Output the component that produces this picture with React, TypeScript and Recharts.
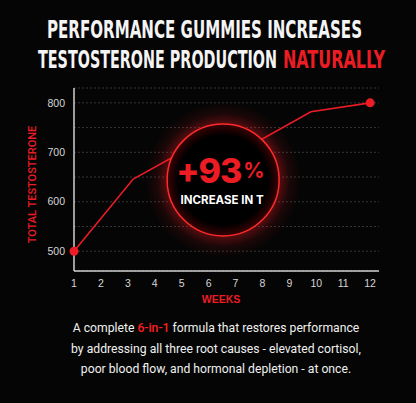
import React from 'react';
import {
  LineChart, Line, XAxis, YAxis, CartesianGrid, ReferenceDot, Label,
} from 'recharts';

// weeks on the x axis, total testosterone
const weeks = [1, 3.2, 5, 7.5, 9.8, 12];
const testosterone = [500, 646, 700, 712, 782, 800];
const weekTicks = [1, 2, 3, 4, 5, 6, 7, 8, 9, 10, 11, 12];
const levelTicks = [500, 550, 600, 650, 700, 750, 800];

// the "+93%" badge sits at this spot in data space
const badgeWeek = 6.54;
const badgeLevel = 644;

const RED = '#ec1c24';
const data = weeks.map((w, i) => ({ week: w, t: testosterone[i] }));

const EndDot = (props: any) => {
  const { cx, cy, index } = props;
  if (index !== 0 && index !== data.length - 1) return <g key={`d-${index}`} />;
  return <circle key={`d-${index}`} cx={cx} cy={cy} r={4.5} fill={RED} />;
};

const Badge = (props: any) => {
  const { cx, cy } = props;
  const r = 56;
  return (
    <g>
      <defs>
        <radialGradient id="glow" cx="50%" cy="50%" r="50%">
          <stop offset="0.6" stopColor={RED} stopOpacity={0.55} />
          <stop offset="0.72" stopColor={RED} stopOpacity={0.35} />
          <stop offset="0.85" stopColor={RED} stopOpacity={0.1} />
          <stop offset="1" stopColor={RED} stopOpacity={0} />
        </radialGradient>
        <radialGradient id="inner" cx="50%" cy="50%" r="50%">
          <stop offset="0.8" stopColor="#000" />
          <stop offset="1" stopColor="#3a0204" />
        </radialGradient>
      </defs>
      <circle cx={cx} cy={cy} r={r + 22} fill="url(#glow)" />
      <circle cx={cx} cy={cy} r={r} fill="url(#inner)" stroke="#ff2a2a" strokeWidth={1.5} />
      <text
        x={cx - 47} y={cy + 3} fill={RED} fontSize={34} fontWeight={800}
        fontFamily="Inter, Roboto, sans-serif" letterSpacing={-1}
      >+93</text>
      <text
        x={cx + 20} y={cy - 2} fill={RED} fontSize={21} fontWeight={700}
        fontFamily="Inter, Roboto, sans-serif"
      >%</text>
      <text
        x={cx - 1} y={cy + 24} fill="#fff" fontSize={11.5} fontWeight={700}
        fontFamily="Inter, Roboto, sans-serif" textAnchor="middle"
      >INCREASE IN T</text>
    </g>
  );
};

const titleFont = "'DejaVu Sans Condensed', Roboto, 'Liberation Sans', sans-serif";

export default function App() {
  return (
    <div style={{
      position: 'absolute', left: 0, top: 0, width: 416, height: 403,
      background: '#050505', overflow: 'hidden',
    }}>
      <svg width={416} height={80} style={{ position: 'absolute', left: 0, top: 0 }}>
        <text x={47} y={38} fill="#f4f4f4" fontSize={25.5} fontWeight={700} fontFamily={titleFont}
          textLength={315} lengthAdjust="spacingAndGlyphs">PERFORMANCE GUMMIES INCREASES</text>
        <text x={38} y={68} fill="#f4f4f4" fontSize={25.5} fontWeight={700} fontFamily={titleFont}
          textLength={239} lengthAdjust="spacingAndGlyphs">TESTOSTERONE PRODUCTION</text>
        <text x={283} y={68} fill={RED} fontSize={25.5} fontWeight={700} fontFamily={titleFont}
          textLength={102} lengthAdjust="spacingAndGlyphs">NATURALLY</text>
      </svg>

      <div style={{ position: 'absolute', left: 0, top: 0 }}>
        <LineChart width={416} height={310} data={data}
          margin={{ top: 88, right: 37, bottom: 9, left: 24 }}>
          <CartesianGrid vertical={false} stroke="#363636" strokeDasharray="2 2" />
          <XAxis
            dataKey="week" type="number" domain={[1, 12.33]} ticks={weekTicks}
            interval={0} height={30} tickLine={false} tickSize={0} tickMargin={9}
            axisLine={{ stroke: '#d0d0d0', strokeWidth: 1.5 }}
            tick={{ fill: '#d6d6d6', fontSize: 10.5, fontFamily: "'Liberation Sans', Arial, sans-serif" }}
          >
            <Label content={(p: any) => {
              const vb = p.viewBox;
              return (
                <text x={vb.x + vb.width / 2 - 5.5} y={vb.y + 28} fill={RED} fontSize={10.5}
                  fontWeight={700} textAnchor="middle" dominantBaseline="central"
                  fontFamily="'Liberation Sans', Arial, sans-serif">WEEKS</text>
              );
            }} />
          </XAxis>
          <YAxis
            type="number" domain={[460, 830]} ticks={levelTicks} interval={0} width={50}
            tickLine={false} tickSize={0} tickMargin={9}
            tickFormatter={(v: number) => (v % 100 === 0 ? String(v) : '')}
            axisLine={{ stroke: '#d0d0d0', strokeWidth: 1.5 }}
            tick={{ fill: '#d6d6d6', fontSize: 10.5, fontFamily: "'Liberation Sans', Arial, sans-serif" }}
          >
            <Label content={(p: any) => {
              const vb = p.viewBox;
              const x = vb.x + 8;
              const y = vb.y + vb.height / 2 + 5;
              return (
                <text x={x} y={y} fill={RED} fontSize={11} fontWeight={500} textAnchor="middle"
                  dominantBaseline="central" transform={`rotate(-90 ${x} ${y})`}
                  fontFamily="Roboto, Arial, sans-serif">TOTAL TESTOSTERONE</text>
              );
            }} />
          </YAxis>
          <Line type="linear" dataKey="t" stroke={RED} strokeWidth={1.6}
            dot={EndDot} activeDot={false} isAnimationActive={false} />
          <ReferenceDot x={badgeWeek} y={badgeLevel} r={56} shape={Badge}
            ifOverflow="visible" zIndex={2000} />
        </LineChart>
      </div>

      <div style={{
        position: 'absolute', left: 8, top: 318, width: 416, textAlign: 'center',
        color: '#f0f0f0', fontFamily: 'Roboto, sans-serif', fontSize: 12.2, lineHeight: '20.5px',
      }}>
        <div>A complete <span style={{ color: '#ff1f1f', fontWeight: 500 }}>6-in-1</span> formula that restores performance</div>
        <div>by addressing all three root causes - elevated cortisol,</div>
        <div>poor blood flow, and hormonal depletion - at once.</div>
      </div>
    </div>
  );
}
